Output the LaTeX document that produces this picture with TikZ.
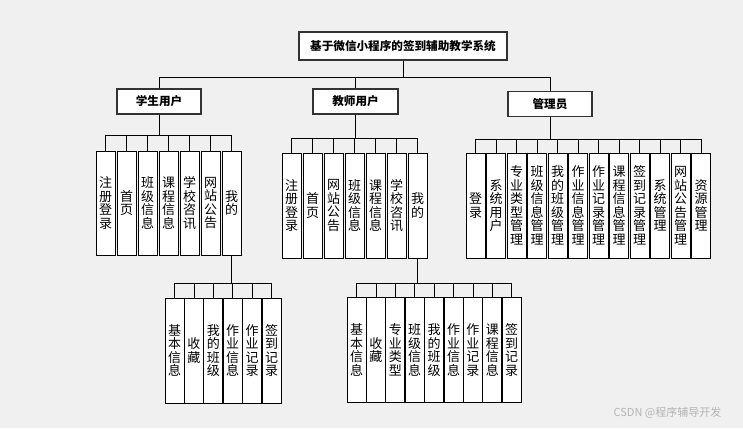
\documentclass[tikz,border=0pt]{standalone}
\usepackage{fontspec}
\setmainfont{Noto Sans CJK SC}
\usepackage{xcolor}
\usepackage{tikz}
\usetikzlibrary{positioning}

\definecolor{bgcol}{HTML}{F0F0F0}
\definecolor{markcol}{HTML}{B4B4B4}

\begin{document}
\begin{tikzpicture}[x=1pt, y=1pt,
  node distance=2pt,
  head/.style={rectangle, draw=black!80, line width=1.1pt, fill=white, minimum width=84pt, minimum height=25pt, inner sep=0pt, font=\fontsize{11.6}{14}\selectfont\bfseries},
  leaf/.style={rectangle, draw, line width=0.7pt, fill=white, minimum width=19pt, minimum height=105pt, inner sep=0pt, outer sep=0pt, align=center, font=\fontsize{13}{13.5}\selectfont},
  link/.style={line width=0.8pt}
]
\fill[bgcol] (0,0) rectangle (743,-428);
\useasboundingbox (0,0) rectangle (743,-428);

% 顶层
\node[head, minimum width=208pt, minimum height=28pt] (sys) at (403,-46) {基于微信小程序的签到辅助教学系统};
\node[head] (stu) at (159,-101.5) {学生用户};
\node[head, minimum width=85pt] (tea) at (355.5,-101.5) {教师用户};
\node[head] (adm) at (550,-104) {管理员};

% 学生用户
\node[leaf, minimum height=104pt] (s1) at (105.5,-203) {注\\册\\登\\录};
\node[leaf, minimum height=104pt, right=of s1] (s2) {首\\页};
\node[leaf, minimum height=104pt, right=of s2] (s3) {班\\级\\信\\息};
\node[leaf, minimum height=104pt, right=of s3] (s4) {课\\程\\信\\息};
\node[leaf, minimum height=104pt, right=of s4] (s5) {学\\校\\咨\\讯};
\node[leaf, minimum height=104pt, right=of s5] (s6) {网\\站\\公\\告};
\node[leaf, minimum height=104pt, right=of s6] (s7) {我\\的};

% 学生用户 / 我的
\node[leaf] (m1) at (174.5,-350.5) {基\\本\\信\\息};
\node[leaf, right=0.4pt of m1] (m2) {收\\藏};
\node[leaf, right=0.4pt of m2] (m3) {我\\的\\班\\级};
\node[leaf, right=0.4pt of m3] (m4) {作\\业\\信\\息};
\node[leaf, right=0.4pt of m4] (m5) {作\\业\\记\\录};
\node[leaf, right=0.4pt of m5] (m6) {签\\到\\记\\录};

% 教师用户
\node[leaf] (t1) at (291.5,-205.5) {注\\册\\登\\录};
\node[leaf, right=of t1] (t2) {首\\页};
\node[leaf, right=of t2] (t3) {网\\站\\公\\告};
\node[leaf, right=of t3] (t4) {班\\级\\信\\息};
\node[leaf, right=of t4] (t5) {课\\程\\信\\息};
\node[leaf, right=of t5] (t6) {学\\校\\咨\\讯};
\node[leaf, right=of t6] (t7) {我\\的};

% 教师用户 / 我的
\node[leaf] (n1) at (356.5,-350) {基\\本\\信\\息};
\node[leaf, right=0.4pt of n1] (n2) {收\\藏};
\node[leaf, right=0.4pt of n2] (n3) {专\\业\\类\\型};
\node[leaf, right=0.4pt of n3] (n4) {班\\级\\信\\息};
\node[leaf, right=0.4pt of n4] (n5) {我\\的\\班\\级};
\node[leaf, right=0.4pt of n5] (n6) {作\\业\\信\\息};
\node[leaf, right=0.4pt of n6] (n7) {作\\业\\记\\录};
\node[leaf, right=0.4pt of n7] (n8) {课\\程\\信\\息};
\node[leaf, right=0.4pt of n8] (n9) {签\\到\\记\\录};

% 管理员
\node[leaf] (a1) at (475.5,-205.5) {登\\录};
\node[leaf, right=1.5pt of a1] (a2) {系\\统\\用\\户};
\node[leaf, right=1.5pt of a2] (a3) {专\\业\\类\\型\\管\\理};
\node[leaf, right=1.5pt of a3] (a4) {班\\级\\信\\息\\管\\理};
\node[leaf, right=1.5pt of a4] (a5) {我\\的\\班\\级\\管\\理};
\node[leaf, right=1.5pt of a5] (a6) {作\\业\\信\\息\\管\\理};
\node[leaf, right=1.5pt of a6] (a7) {作\\业\\记\\录\\管\\理};
\node[leaf, right=1.5pt of a7] (a8) {课\\程\\信\\息\\管\\理};
\node[leaf, right=1.5pt of a8] (a9) {签\\到\\记\\录\\管\\理};
\node[leaf, right=1.5pt of a9] (a10) {系\\统\\管\\理};
\node[leaf, right=1.5pt of a10] (a11) {网\\站\\公\\告\\管\\理};
\node[leaf, right=1.5pt of a11] (a12) {资\\源\\管\\理};

\node[text=markcol, font=\fontsize{11}{13}\selectfont] (mark) at (667.5,-413) {CSDN @程序辅导开发};

\draw[link] (sys.south) -- ++(0,-17) -| (stu.north);
\draw[link] (sys.south) -- ++(0,-17) -| (tea.north);
\draw[link] (sys.south) -- ++(0,-17) -| (adm.north);

\draw[link] (stu.south) -- ++(0,-21) -| (s1.north);
\draw[link] (stu.south) -- ++(0,-21) -| (s2.north);
\draw[link] (stu.south) -- ++(0,-21) -| (s3.north);
\draw[link] (stu.south) -- ++(0,-21) -| (s4.north);
\draw[link] (stu.south) -- ++(0,-21) -| (s5.north);
\draw[link] (stu.south) -- ++(0,-21) -| (s6.north);
\draw[link] (stu.south) -- ++(0,-21) -| (s7.north);

\draw[link] (s7.south) -- ++(0,-28) -| (m1.north);
\draw[link] (s7.south) -- ++(0,-28) -| (m2.north);
\draw[link] (s7.south) -- ++(0,-28) -| (m3.north);
\draw[link] (s7.south) -- ++(0,-28) -| (m4.north);
\draw[link] (s7.south) -- ++(0,-28) -| (m5.north);
\draw[link] (s7.south) -- ++(0,-28) -| (m6.north);

\draw[link] (tea.south) -- ++(0,-24) -| (t1.north);
\draw[link] (tea.south) -- ++(0,-24) -| (t2.north);
\draw[link] (tea.south) -- ++(0,-24) -| (t3.north);
\draw[link] (tea.south) -- ++(0,-24) -| (t4.north);
\draw[link] (tea.south) -- ++(0,-24) -| (t5.north);
\draw[link] (tea.south) -- ++(0,-24) -| (t6.north);
\draw[link] (tea.south) -- ++(0,-24) -| (t7.north);

\draw[link] (t7.south) -- ++(0,-25) -| (n1.north);
\draw[link] (t7.south) -- ++(0,-25) -| (n2.north);
\draw[link] (t7.south) -- ++(0,-25) -| (n3.north);
\draw[link] (t7.south) -- ++(0,-25) -| (n4.north);
\draw[link] (t7.south) -- ++(0,-25) -| (n5.north);
\draw[link] (t7.south) -- ++(0,-25) -| (n6.north);
\draw[link] (t7.south) -- ++(0,-25) -| (n7.north);
\draw[link] (t7.south) -- ++(0,-25) -| (n8.north);
\draw[link] (t7.south) -- ++(0,-25) -| (n9.north);

\draw[link] (adm.south) -- ++(0,-22) -| (a1.north);
\draw[link] (adm.south) -- ++(0,-22) -| (a2.north);
\draw[link] (adm.south) -- ++(0,-22) -| (a3.north);
\draw[link] (adm.south) -- ++(0,-22) -| (a4.north);
\draw[link] (adm.south) -- ++(0,-22) -| (a5.north);
\draw[link] (adm.south) -- ++(0,-22) -| (a6.north);
\draw[link] (adm.south) -- ++(0,-22) -| (a7.north);
\draw[link] (adm.south) -- ++(0,-22) -| (a8.north);
\draw[link] (adm.south) -- ++(0,-22) -| (a9.north);
\draw[link] (adm.south) -- ++(0,-22) -| (a10.north);
\draw[link] (adm.south) -- ++(0,-22) -| (a11.north);
\draw[link] (adm.south) -- ++(0,-22) -| (a12.north);
\end{tikzpicture}
\end{document}
